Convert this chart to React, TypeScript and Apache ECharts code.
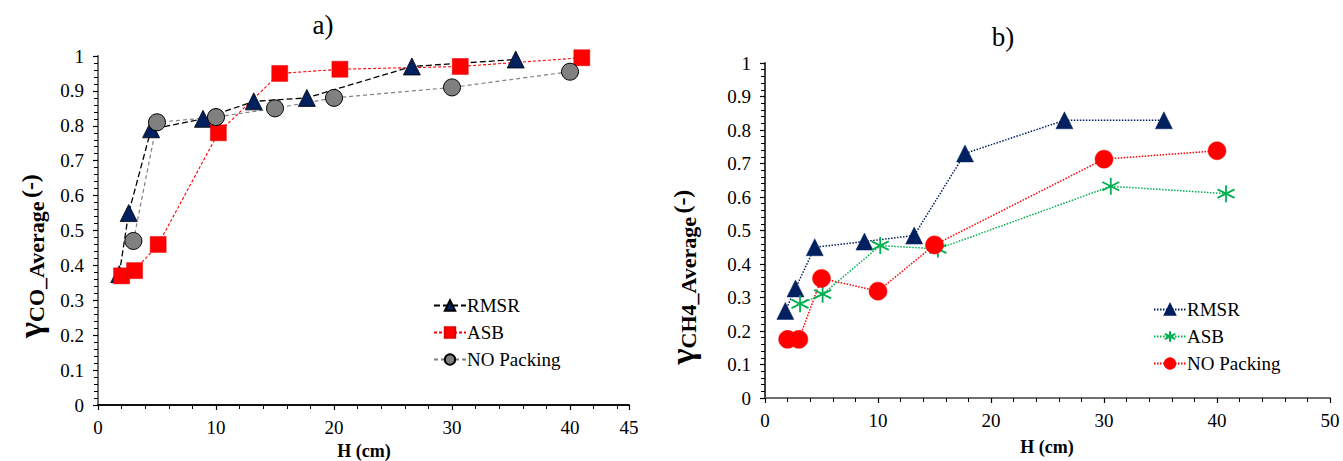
import React, { useEffect, useRef } from "react";
import * as echarts from "echarts";

// ---- Data: panel a) gamma CO average ----
const xCoRMSR = [1.8, 2.6, 4.5, 8.9, 13.2, 17.7, 26.6, 35.4];
const yCoRMSR = [0.375, 0.55, 0.79, 0.82, 0.87, 0.88, 0.97, 0.99];
const xCoASB = [2.0, 3.1, 5.1, 10.2, 15.4, 20.5, 30.7, 41.0];
const yCoASB = [0.37, 0.385, 0.46, 0.78, 0.95, 0.962, 0.97, 0.995];
const xCoNP = [3.0, 5.0, 10.0, 15.0, 20.0, 30.0, 40.0];
const yCoNP = [0.47, 0.81, 0.825, 0.85, 0.88, 0.91, 0.955];

// ---- Data: panel b) gamma CH4 average ----
const xCh4RMSR = [1.8, 2.7, 4.4, 8.8, 13.2, 17.7, 26.5, 35.3];
const yCh4RMSR = [0.26, 0.327, 0.45, 0.467, 0.485, 0.73, 0.829, 0.829];
const xCh4ASB = [3.1, 5.1, 10.2, 15.3, 30.6, 40.8];
const yCh4ASB = [0.281, 0.31, 0.455, 0.445, 0.632, 0.61];
const xCh4NP = [2.0, 3.0, 5.0, 10.0, 15.0, 30.0, 40.0];
const yCh4NP = [0.175, 0.175, 0.357, 0.319, 0.457, 0.713, 0.738];

const seriesNames = ["RMSR", "ASB", "NO Packing"];
const panelTitles = ["a)", "b)"];
const xAxisTitle = "H (cm)";

const zip = (xs: number[], ys: number[]) => xs.map((x, i) => [x, ys[i]]);

const FONT = "Liberation Serif";
const NAVY = "#002060";
const RED = "#ff0000";
const GREY = "#808080";
const GREEN = "#00b050";
const ASTERISK = "path://M5,0L5,10M0.7,2.5L9.3,7.5M0.7,7.5L9.3,2.5";

function App() {
  const ref = useRef<HTMLDivElement>(null);
  useEffect(() => {
    if (!ref.current) return;
    const chart = echarts.init(ref.current, null, { renderer: "svg" });

    const grids = [
      { left: 98, top: 56, width: 531, height: 349 },
      { left: 765, top: 63, width: 565, height: 335 },
    ];

    const mkX = (gi: number, max: number) => ({
      type: "value",
      gridIndex: gi,
      min: 0,
      max,
      interval: 10,
      axisLine: { show: true, onZero: false, lineStyle: { color: "#000", width: 1.5 } },
      axisTick: { show: true, length: 5, lineStyle: { color: "#000", width: 1.2 } },
      minorTick: { show: true, splitNumber: 5, length: 4, lineStyle: { color: "#000", width: 1 } },
      splitLine: { show: false },
      axisLabel: { fontFamily: FONT, fontSize: 19, color: "#000", margin: 13 },
    });
    const mkY = (gi: number) => ({
      type: "value",
      gridIndex: gi,
      min: 0,
      max: 1,
      interval: 0.1,
      axisLine: { show: true, onZero: false, lineStyle: { color: "#000", width: 1.5 } },
      axisTick: { show: true, length: 5, lineStyle: { color: "#000", width: 1.2 } },
      minorTick: { show: true, splitNumber: 5, length: 4, lineStyle: { color: "#000", width: 1 } },
      splitLine: { show: false },
      axisLabel: { fontFamily: FONT, fontSize: 19, color: "#000", margin: 14 },
    });
    const mkBorderX = (gi: number, max: number, color: string) => ({
      type: "value",
      gridIndex: gi,
      position: "top",
      min: 0,
      max,
      axisLine: { show: true, lineStyle: { color, width: 1.5 } },
      axisTick: { show: false },
      axisLabel: { show: false },
      splitLine: { show: false },
    });
    const mkBorderY = (gi: number, color: string) => ({
      type: "value",
      gridIndex: gi,
      position: "right",
      min: 0,
      max: 1,
      axisLine: { show: true, lineStyle: { color, width: 1.5 } },
      axisTick: { show: false },
      axisLabel: { show: false },
      splitLine: { show: false },
    });

    const line = (
      name: string,
      xi: number,
      yi: number,
      data: number[][],
      symbol: string,
      size: number | number[],
      itemStyle: any,
      lineStyle: any
    ) => ({
      type: "line",
      name,
      xAxisIndex: xi,
      yAxisIndex: yi,
      data,
      symbol,
      symbolSize: size,
      showSymbol: true,
      itemStyle,
      lineStyle,
      emphasis: { disabled: true },
    });

    const yTitle = (x: number, y: number, sub: string) => ({
      type: "text",
      x,
      y,
      rotation: Math.PI / 2,
      style: {
        text: `{g|γ}{s|${sub}} {p|(-)}`,
        align: "center",
        verticalAlign: "middle",
        fill: "#000",
        rich: {
          g: { fontFamily: FONT, fontSize: 34, fontWeight: "bold", fill: "#000", verticalAlign: "middle", lineHeight: 34 },
          s: { fontFamily: FONT, fontSize: 22, fontWeight: "bold", fill: "#000", verticalAlign: "bottom", lineHeight: 22 },
          p: { fontFamily: FONT, fontSize: 24, fontWeight: "bold", fill: "#000", verticalAlign: "middle", lineHeight: 24 },
        },
      },
    });

    const legendCommon = {
      orient: "vertical",
      itemWidth: 32,
      itemHeight: 13,
      itemGap: 8,
      textStyle: { fontFamily: FONT, fontSize: 19, color: "#000", padding: [0, 0, 0, -4] },
      selectedMode: false,
    };

    chart.setOption({
      animation: false,
      backgroundColor: "#fff",
      grid: grids.map((g) => ({ ...g, containLabel: false })),
      xAxis: [mkX(0, 45), mkX(1, 50), mkBorderX(0, 45, "#000"), mkBorderX(1, 50, "#808080")],
      yAxis: [mkY(0), mkY(1), mkBorderY(0, "#808080"), mkBorderY(1, "#404040")],
      legend: [
        {
          ...legendCommon,
          left: 428,
          top: 291,
          data: [
            { name: seriesNames[0] },
            { name: seriesNames[1] },
            { name: seriesNames[2] },
          ],
        },
        {
          ...legendCommon,
          left: 1148,
          top: 295,
          data: [{ name: seriesNames[0] + " " }, { name: seriesNames[1] + " " }, { name: seriesNames[2] + " " }],
        },
      ],
      graphic: [
        { type: "text", x: 323, y: 25, style: { text: panelTitles[0], font: `27px ${FONT}`, fill: "#000", align: "center", verticalAlign: "middle" } },
        { type: "text", x: 1003, y: 37, style: { text: panelTitles[1], font: `27px ${FONT}`, fill: "#000", align: "center", verticalAlign: "middle" } },
        { type: "text", x: 364, y: 451, style: { text: xAxisTitle, font: `bold 18px ${FONT}`, fill: "#000", align: "center", verticalAlign: "middle" } },
        { type: "text", x: 1047, y: 447, style: { text: xAxisTitle, font: `bold 18px ${FONT}`, fill: "#000", align: "center", verticalAlign: "middle" } },
        yTitle(30, 256, "CO_Average"),
        yTitle(682, 277, "CH4_Average"),
      ],
      series: [
        line(seriesNames[0], 0, 0, zip(xCoRMSR, yCoRMSR), "triangle", 17,
          { color: NAVY, borderColor: "#000", borderWidth: 0.8 },
          { color: "#000", width: 1.3, type: [6, 3] }),
        line(seriesNames[1], 0, 0, zip(xCoASB, yCoASB), "rect", 16,
          { color: RED, borderColor: "#e00000", borderWidth: 0.5 },
          { color: RED, width: 1.1, type: [3, 2] }),
        line(seriesNames[2], 0, 0, zip(xCoNP, yCoNP), "circle", 17,
          { color: GREY, borderColor: "#000", borderWidth: 1 },
          { color: GREY, width: 1.2, type: [4, 3] }),
        line(seriesNames[0] + " ", 1, 1, zip(xCh4RMSR, yCh4RMSR), "triangle", 17,
          { color: NAVY, borderColor: NAVY, borderWidth: 0.5 },
          { color: NAVY, width: 1.5, type: [1.5, 1.5] }),
        line(seriesNames[1] + " ", 1, 1, zip(xCh4ASB, yCh4ASB), ASTERISK, 17,
          { color: GREEN, borderColor: GREEN, borderWidth: 1.8 },
          { color: GREEN, width: 1.5, type: [1.5, 1.5] }),
        line(seriesNames[2] + " ", 1, 1, zip(xCh4NP, yCh4NP), "circle", 18,
          { color: RED, borderColor: RED, borderWidth: 0.5 },
          { color: RED, width: 1.5, type: [1.5, 1.5] }),
      ],
    });
    return () => chart.dispose();
  }, []);
  return (
    <div
      ref={ref}
      style={{ position: "fixed", left: 0, top: 0, width: 1343, height: 461, background: "#fff" }}
    />
  );
}

export default App;
